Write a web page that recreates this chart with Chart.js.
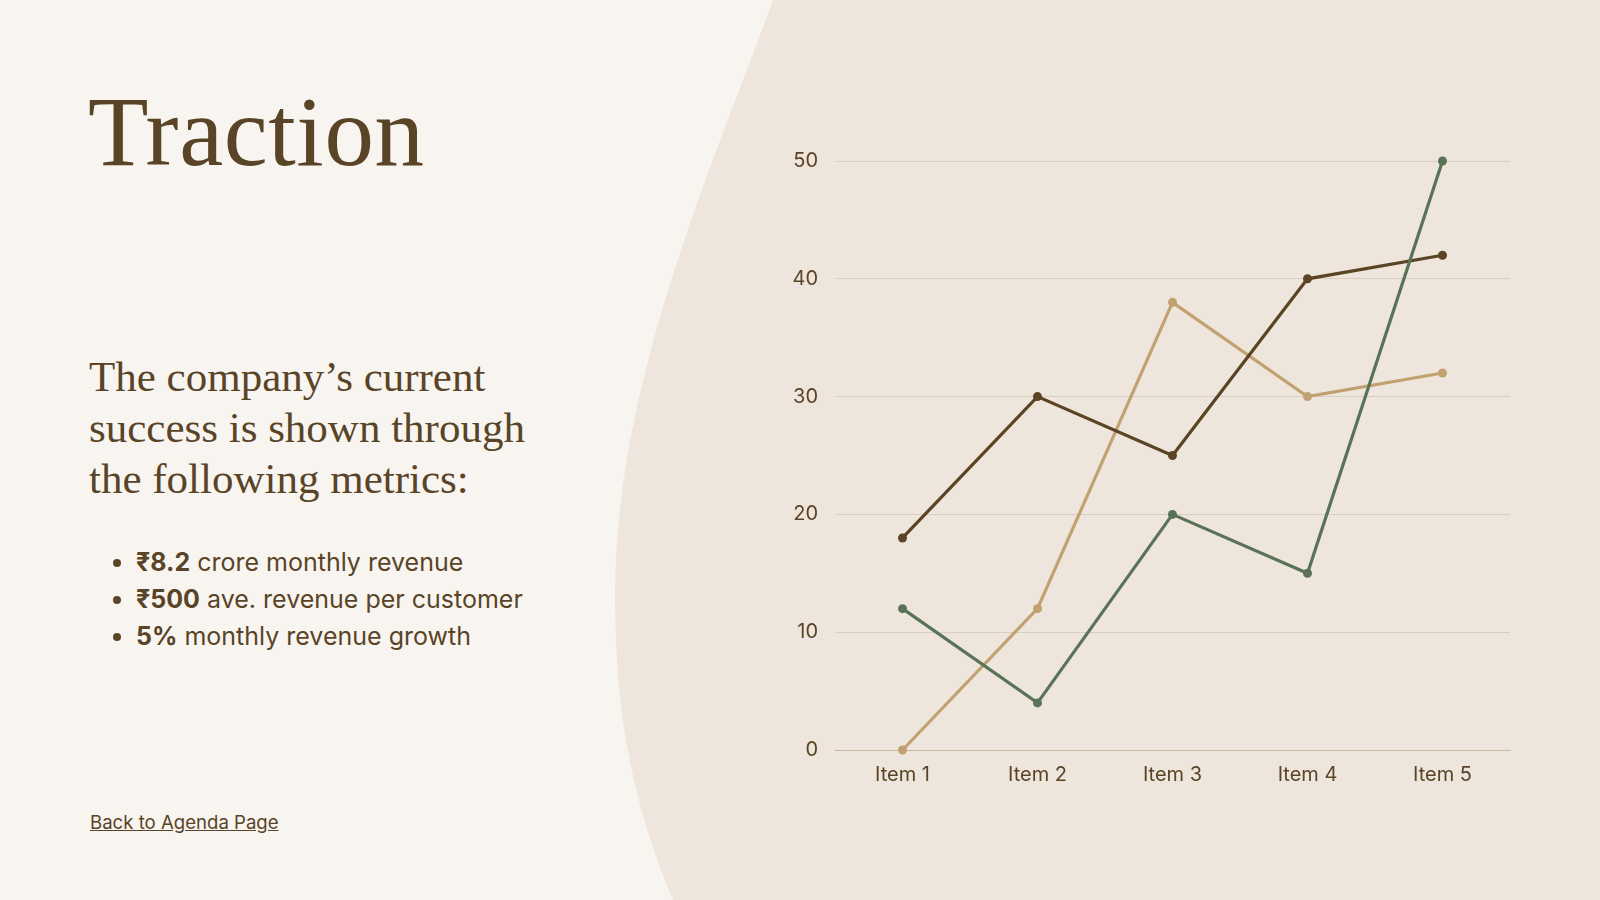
<!DOCTYPE html>
<html>
<head>
<meta charset="utf-8">
<script src="https://cdn.jsdelivr.net/npm/chart.js@4.4.1/dist/chart.umd.min.js"></script>
<style>
  html, body { margin: 0; padding: 0; }
  body { width: 1600px; height: 900px; position: relative; overflow: hidden; background: #f8f5f0; color: #5a4427; }
  #bg { position: absolute; left: 0; top: 0; }
  .title { position: absolute; left: 88px; top: 76px; font-family: "Liberation Serif", serif; font-size: 99px; line-height: 112px; margin: 0; font-weight: normal; letter-spacing: 0.6px; }
  .lead { position: absolute; left: 89px; top: 351px; font-family: "Liberation Serif", serif; font-size: 43px; line-height: 51px; margin: 0; }
  ul.metrics { position: absolute; left: 108px; top: 544px; margin: 0; padding: 0 0 0 28px; font-family: Inter, sans-serif; font-size: 25px; line-height: 37px; }
  ul.metrics b { font-weight: 700; }
  .back { position: absolute; left: 90px; top: 811px; font-family: Inter, sans-serif; font-size: 18.6px; color: #5a4427; text-decoration: underline; }
  .chart-box { position: absolute; left: 770px; top: 132px; width: 750px; height: 678px; }
</style>
</head>
<body>
<svg id="bg" width="1600" height="900">
  <path d="M773,0 C715,160 615,380 615,595 C615,720 635,810 673,900 L1600,900 L1600,0 Z" fill="#eee6dc"/>
</svg>

<h1 class="title">Traction</h1>
<p class="lead">The company’s current<br>success is shown through<br>the following metrics:</p>
<ul class="metrics">
  <li><b>₹8.2</b> crore monthly revenue</li>
  <li><b>₹500</b> ave. revenue per customer</li>
  <li><b>5%</b> monthly revenue growth</li>
</ul>
<a class="back" href="#">Back to Agenda Page</a>

<div class="chart-box"><canvas id="tractionChart"></canvas></div>

<script>
// === data ===
const items      = ['Item 1', 'Item 2', 'Item 3', 'Item 4', 'Item 5'];
const seriesDark = [18, 30, 25, 40, 42];
const seriesTan  = [0, 12, 38, 30, 32];
const seriesSage = [12, 4, 20, 15, 50];
const yTicks     = [0, 10, 20, 30, 40, 50];

const textColor = '#5a4427';
const gridColor = '#d9cfc1';

function line(data, color) {
  return {
    data,
    borderColor: color,
    backgroundColor: color,
    borderWidth: 3.2,
    pointRadius: 4.5,
    pointHoverRadius: 4.5,
    pointBorderWidth: 0,
    tension: 0,
    clip: false
  };
}

const ctx = document.getElementById('tractionChart').getContext('2d');

new Chart(ctx, {
  type: 'line',
  data: {
    labels: items,
    // first dataset is painted last (on top)
    datasets: [
      line(seriesSage, '#587356'),
      line(seriesDark, '#5b4424'),
      line(seriesTan,  '#c2a171')
    ]
  },
  options: {
    responsive: true,
    maintainAspectRatio: false,
    animation: false,
    layout: { padding: { top: 12, right: 10, left: 0, bottom: 0 } },
    plugins: { legend: { display: false }, tooltip: { enabled: false } },
    scales: {
      x: {
        offset: true,
        grid: { display: false, drawTicks: false },
        border: { display: true, color: '#c9b9a3', width: 1 },
        ticks: { color: textColor, padding: 13, font: { family: 'Inter', size: 20 } },
        afterFit: s => { s.height = 60; }
      },
      y: {
        min: 0,
        max: 50,
        afterBuildTicks: s => { s.ticks = yTicks.map(v => ({ value: v })); },
        grid: { color: gridColor, lineWidth: 1, drawTicks: false },
        border: { display: false },
        ticks: { color: textColor, padding: 17, font: { family: 'Inter', size: 20 } },
        afterFit: s => { s.width = 65; }
      }
    }
  }
});
</script>
</body>
</html>
